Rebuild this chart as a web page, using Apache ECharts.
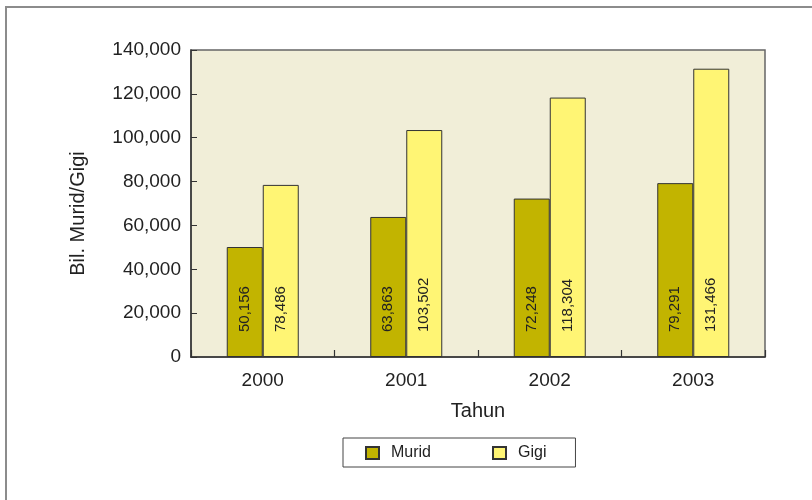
<!DOCTYPE html>
<html>
<head>
<meta charset="utf-8">
<script src="https://cdn.jsdelivr.net/npm/echarts@6/dist/echarts.min.js"></script>
<style>
  html, body { margin: 0; padding: 0; background: #fff; }
  #chart { width: 812px; height: 500px; }
</style>
</head>
<body>
<div id="chart"></div>
<script>
// Number of students and teeth per year
const years = ['2000', '2001', '2002', '2003'];
const murid = [50156, 63863, 72248, 79291];
const gigi = [78486, 103502, 118304, 131466];
const yTicks = [0, 20000, 40000, 60000, 80000, 100000, 120000, 140000];

const FONT = '"Liberation Sans", Arial, sans-serif';
const fmt = v => v.toLocaleString('en-US');

const chart = echarts.init(document.getElementById('chart'), null, { renderer: 'canvas' });

const barLabel = {
  show: true,
  position: 'insideBottom',
  distance: 25,
  rotate: 90,
  align: 'left',
  verticalAlign: 'middle',
  fontFamily: FONT,
  fontSize: 15,
  color: '#222',
  formatter: p => fmt(p.value)
};

chart.setOption({
  animation: false,
  backgroundColor: '#ffffff',
  textStyle: { fontFamily: FONT },
  graphic: [{
    type: 'rect',
    shape: { x: 6, y: 7, width: 830, height: 520 },
    style: { fill: 'none', stroke: '#8c8c8c', lineWidth: 2 },
    silent: true
  }],
  grid: {
    left: 191, top: 50, width: 574, height: 307,
    show: true,
    backgroundColor: '#F1EED8',
    borderColor: '#666',
    borderWidth: 1.5
  },
  legend: {
    left: 343, top: 438,
    data: ['Murid', 'Gigi'],
    itemWidth: 13, itemHeight: 12,
    itemGap: 61,
    padding: [7, 29, 6, 22],
    borderColor: '#444',
    borderWidth: 1,
    backgroundColor: '#fff',
    textStyle: { fontFamily: FONT, fontSize: 16, lineHeight: 16, color: '#222', padding: [0, 0, 0, 7] },
    icon: 'rect'
  },
  xAxis: {
    type: 'category',
    data: years,
    name: 'Tahun',
    nameLocation: 'middle',
    nameGap: 44,
    nameTextStyle: { fontFamily: FONT, fontSize: 20, color: '#222' },
    axisLine: { lineStyle: { color: '#333', width: 1.5 } },
    axisTick: { show: true, inside: true, length: 7, lineStyle: { color: '#333', width: 1.2 } },
    axisLabel: { fontFamily: FONT, fontSize: 19, color: '#222', margin: 14 },
    z: 5
  },
  yAxis: {
    type: 'value',
    min: yTicks[0],
    max: yTicks[yTicks.length - 1],
    interval: yTicks[1] - yTicks[0],
    name: 'Bil. Murid/Gigi',
    nameLocation: 'middle',
    nameGap: 103,
    nameTextStyle: { fontFamily: FONT, fontSize: 20, color: '#222', padding: [0, 20, 0, 0] },
    axisLine: { show: true, lineStyle: { color: '#333', width: 1.5 } },
    axisTick: { show: true, inside: true, length: 6, lineStyle: { color: '#333' } },
    splitLine: { show: false },
    axisLabel: { fontFamily: FONT, fontSize: 19, color: '#222', margin: 10, formatter: v => fmt(v) }
  },
  series: [
    {
      name: 'Murid', type: 'bar', data: murid,
      barWidth: 36, barGap: '0%',
      itemStyle: { color: '#C2B400', borderColor: '#333', borderWidth: 1 },
      label: barLabel
    },
    {
      name: 'Gigi', type: 'bar', data: gigi,
      barWidth: 36, barGap: '0%',
      itemStyle: { color: '#FFF574', borderColor: '#333', borderWidth: 1 },
      label: barLabel
    }
  ]
});
</script>
</body>
</html>
